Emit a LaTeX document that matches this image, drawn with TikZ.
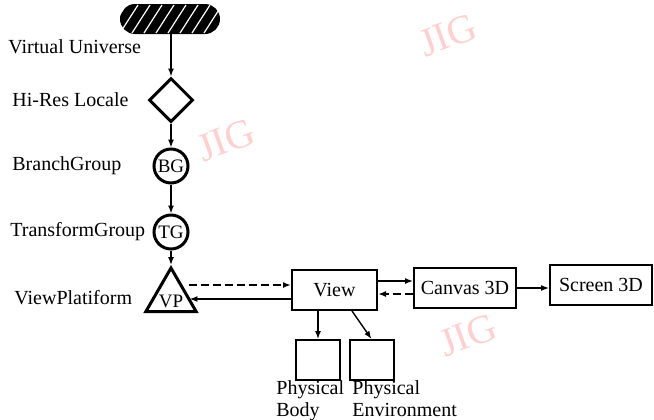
\documentclass[tikz,border=0pt]{standalone}
\usepackage{fontspec}
\setmainfont{Liberation Serif}
\usepackage{tikz}
\usetikzlibrary{arrows.meta, positioning, shapes.geometric, calc}
\definecolor{wmred}{HTML}{FFCFCF}

\tikzset{
  lbl/.style={font=\fontsize{10}{11}\selectfont, anchor=west, inner sep=0pt},
  ring/.style={circle, draw, line width=1.5pt, minimum size=17pt, inner sep=0pt,
    font=\fontsize{9.5}{10}\selectfont},
  box/.style={draw, line width=1pt, minimum height=20pt, inner sep=0pt,
    font=\fontsize{10}{11}\selectfont},
  link/.style={-{Latex[length=4pt,width=3pt]}, line width=0.7pt},
  dlink/.style={link, line width=1pt, dash pattern=on 4pt off 2pt},
  wm/.style={font=\fontsize{20}{20}\selectfont, text=wmred, rotate=20, inner sep=0pt}
}

\begin{document}
\begin{tikzpicture}[x=0.5pt, y=-0.5pt]
  \useasboundingbox (0,0) rectangle (654,419);

  %% Watermarks
  \node[wm] (wma) at (448,35) {JIG};
  \node[wm] (wmb) at (226,140) {JIG};
  \node[wm] (wmc) at (468,335) {JIG};

  %% Scene graph column
  \node[draw, fill=black, line width=1pt, rounded corners=7pt,
        minimum width=49pt, minimum height=14pt, inner sep=0pt] (vu) at (170,19) {};
  \begin{scope}
    \clip[rounded corners=7pt] (vu.south west) rectangle (vu.north east);
    \foreach \i in {0,...,9}{
      \draw[white, line width=0.6pt] ({108+\i*12},33) -- ++(18,-28);
    }
  \end{scope}
  \node[diamond, draw, line width=1.5pt, minimum size=22pt, inner sep=0pt] (hires) at (171,100) {};
  \node[ring] (bg) at (171,166) {BG};
  \node[ring] (tg) at (171,232) {TG};
  \node[regular polygon, regular polygon sides=3, draw, line width=1.5pt,
        minimum size=29pt, inner sep=0pt] (vp) at (171,297) {};
  \node[font=\fontsize{9.5}{10}\selectfont, inner sep=0pt] (vptxt) at ([yshift=-2pt]vp.center) {VP};

  \node[lbl] (vulbl) at (8,47) {Virtual Universe};
  \node[lbl] (hireslbl) at (12,100) {Hi-Res Locale};
  \node[lbl] (bglbl) at (12,166) {BranchGroup};
  \node[lbl] (tglbl) at (10,232) {TransformGroup};
  \node[lbl] (vplbl) at (14,298) {ViewPlatiform};

  \draw[link] (vu.south -| hires.north) -- (hires.north);
  \draw[link] (hires.south) -- (bg.north);
  \draw[link] (bg.south) -- (tg.north);
  \draw[link] (tg.south) -- (vp.north);

  %% View side
  \node[box, minimum width=42.5pt] (view) at (334.5,290) {View};
  \node[box, minimum width=51pt] (canvas) at (465,288) {Canvas 3D};
  \node[box, minimum width=51pt] (screen) at (601,285) {Screen 3D};
  \node[box, minimum width=22pt] (body) at (318,360) {};
  \node[box, minimum width=22pt] (env) at (371.5,360) {};
  \node[lbl, anchor=north west, align=left] (bodylbl) at (276,380) {Physical\\Body};
  \node[lbl, anchor=north west, align=left] (envlbl) at (352,380) {Physical\\Environment};

  \draw[dlink] ([yshift=2.5pt]view.west -| vp.east) -- ([yshift=2.5pt]view.west);
  \draw[link] ([yshift=-4.5pt]view.west) -- ([yshift=-4.5pt]view.west -| vp.east);
  \draw[link] ([yshift=4.5pt]view.east) -- ([yshift=4.5pt]view.east -| canvas.west);
  \draw[dlink] ([yshift=-3pt]canvas.west) -- ([yshift=-3pt]canvas.west -| view.east);
  \draw[link] (canvas.east) -- (canvas.east -| screen.west);
  \draw[link] (view.south -| body.north) -- (body.north);
  \draw[link] ([xshift=8.75pt]view.south) -- (env.north);

\end{tikzpicture}
\end{document}
